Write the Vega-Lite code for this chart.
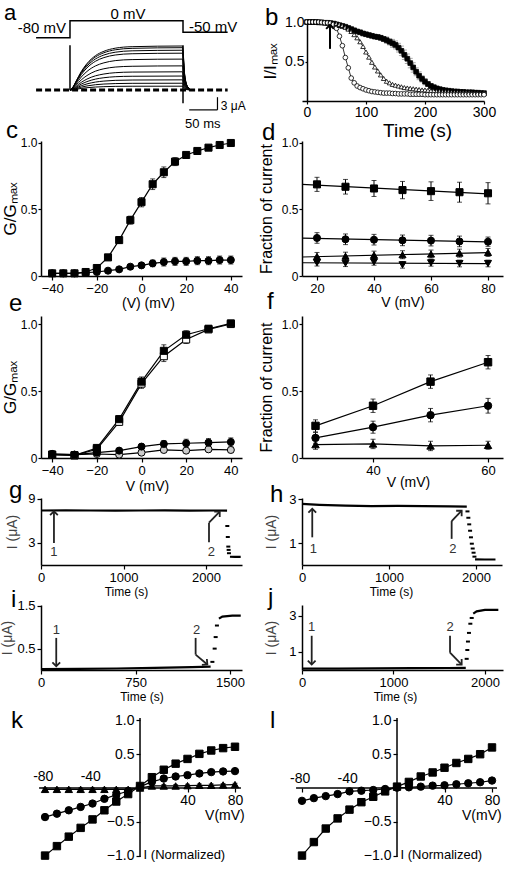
{
"$schema": "https://vega.github.io/schema/vega-lite/v6.json",
"padding": {"left": 0, "top": 0, "right": 4, "bottom": 4},
"columns": 2,
"align": "none",
"bounds": "flush",
"spacing": {"row": 40, "column": 60},
"resolve": {"scale": {"shape": "independent", "fill": "independent"}},
"concat": [
{
 "width": 201, "height": 80,
 "layer": [
  {"data": {"values": [
    {"t":0,"c1":0,"c2":0,"c3":0,"c4":0,"c5":0,"c6":0,"c7":0,"c8":0,"c9":0,"c10":0,"c11":0},
    {"t":5,"c1":0.62,"c2":0.6,"c3":0.56,"c4":0.52,"c5":0.44,"c6":0.34,"c7":0.26,"c8":0.2,"c9":0.14,"c10":0.1,"c11":0.05},
    {"t":10,"c1":1.87,"c2":1.8,"c3":1.69,"c4":1.57,"c5":1.31,"c6":1.03,"c7":0.77,"c8":0.59,"c9":0.43,"c10":0.29,"c11":0.16},
    {"t":20,"c1":4.37,"c2":4.2,"c3":3.95,"c4":3.65,"c5":3.07,"c6":2.39,"c7":1.81,"c8":1.39,"c9":1.01,"c10":0.67,"c11":0.38},
    {"t":30,"c1":6.24,"c2":6.0,"c3":5.64,"c4":5.22,"c5":4.38,"c6":3.42,"c7":2.58,"c8":1.98,"c9":1.44,"c10":0.96,"c11":0.54},
    {"t":45,"c1":8.11,"c2":7.8,"c3":7.33,"c4":6.79,"c5":5.69,"c6":4.45,"c7":3.35,"c8":2.57,"c9":1.87,"c10":1.25,"c11":0.7},
    {"t":60,"c1":9.15,"c2":8.8,"c3":8.27,"c4":7.66,"c5":6.42,"c6":5.02,"c7":3.78,"c8":2.9,"c9":2.11,"c10":1.41,"c11":0.79},
    {"t":80,"c1":9.88,"c2":9.5,"c3":8.93,"c4":8.27,"c5":6.94,"c6":5.42,"c7":4.09,"c8":3.14,"c9":2.28,"c10":1.52,"c11":0.86},
    {"t":110,"c1":10.24,"c2":9.85,"c3":9.26,"c4":8.57,"c5":7.19,"c6":5.61,"c7":4.24,"c8":3.25,"c9":2.36,"c10":1.58,"c11":0.89},
    {"t":199,"c1":10.4,"c2":10.0,"c3":9.4,"c4":8.7,"c5":7.3,"c6":5.7,"c7":4.3,"c8":3.3,"c9":2.4,"c10":1.6,"c11":0.9},
    {"t":203,"c1":3.64,"c2":3.5,"c3":3.29,"c4":3.05,"c5":2.56,"c6":2.0,"c7":1.5,"c8":1.16,"c9":0.84,"c10":0.56,"c11":0.32},
    {"t":208,"c1":0.83,"c2":0.8,"c3":0.75,"c4":0.7,"c5":0.58,"c6":0.46,"c7":0.34,"c8":0.26,"c9":0.19,"c10":0.13,"c11":0.07},
    {"t":215,"c1":0,"c2":0,"c3":0,"c4":0,"c5":0,"c6":0,"c7":0,"c8":0,"c9":0,"c10":0,"c11":0}
   ]},
   "transform": [{"fold": ["c1","c2","c3","c4","c5","c6","c7","c8","c9","c10","c11"], "as": ["k","i"]}],
   "mark": {"type":"line","color":"black","strokeWidth":1,"interpolate":"monotone"},
   "encoding": {
    "x": {"field":"t","type":"quantitative","scale":{"domain":[-51.3,304.4],"nice":false,"zero":false},"axis":null},
    "y": {"field":"i","type":"quantitative","scale":{"domain":[-2.6,16.31],"nice":false,"zero":false},"axis":null},
    "detail": {"field":"k"}
   }
  },
  {"data": {"values": [
    {"o":1,"t":-60,"v":12.36},{"o":2,"t":0,"v":12.36},{"o":3,"t":0,"v":16.38},
    {"o":4,"t":200,"v":16.38},{"o":5,"t":200,"v":13.64},{"o":6,"t":279,"v":13.64}
   ]},
   "mark": {"type":"line","color":"black","strokeWidth":1.5},
   "encoding": {
    "x": {"field":"t","type":"quantitative","scale":{"domain":[-51.3,304.4],"nice":false,"zero":false},"axis":null},
    "y": {"field":"v","type":"quantitative","scale":{"domain":[-2.6,16.31],"nice":false,"zero":false},"axis":null},
    "order": {"field":"o"}
   }
  },
  {"data":{"values":[{}]},"mark":{"type":"rule","color":"white","strokeWidth":1,"strokeOpacity":0},"encoding":{"x":{"datum":-123.8},"x2":{"datum":-122},"y":{"datum":21.16}}},
  {"data":{"values":[{}]},"mark":{"type":"rule","color":"black","strokeWidth":3,"strokeDash":[6,3]},"encoding":{"x":{"datum":-60},"x2":{"datum":279},"y":{"datum":0}}},
  {"data":{"values":[{}]},"mark":{"type":"rule","color":"black","strokeWidth":1.5},"encoding":{"x":{"datum":0},"y":{"datum":0},"y2":{"datum":10.6}}},
  {"data":{"values":[{}]},"mark":{"type":"rule","color":"black","strokeWidth":1.5},"encoding":{"x":{"datum":200},"y":{"datum":10.6},"y2":{"datum":-3.15}}},
  {"data":{"values":[{}]},"mark":{"type":"rule","color":"black","strokeWidth":1.2},"encoding":{"x":{"datum":211},"x2":{"datum":261},"y":{"datum":-4.7}}},
  {"data":{"values":[{}]},"mark":{"type":"rule","color":"black","strokeWidth":1.2},"encoding":{"x":{"datum":261},"y":{"datum":-4.7},"y2":{"datum":-1.7}}},
  {"data":{"values":[{}]},"mark":{"type":"text","text":"-80 mV","fontSize":15,"align":"right","baseline":"middle"},"encoding":{"x":{"datum":-7},"y":{"datum":14.54}}},
  {"data":{"values":[{}]},"mark":{"type":"text","text":"0 mV","fontSize":15,"align":"center","baseline":"middle"},"encoding":{"x":{"datum":102.7},"y":{"datum":17.85}}},
  {"data":{"values":[{}]},"mark":{"type":"text","text":"-50 mV","fontSize":15,"align":"left","baseline":"middle"},"encoding":{"x":{"datum":210.6},"y":{"datum":14.78}}},
  {"data":{"values":[{}]},"mark":{"type":"text","text":"3 μA","fontSize":12,"align":"left","baseline":"middle"},"encoding":{"x":{"datum":267},"y":{"datum":-3.8}}},
  {"data":{"values":[{}]},"mark":{"type":"text","text":"50 ms","fontSize":13,"align":"center","baseline":"middle"},"encoding":{"x":{"datum":235},"y":{"datum":-8.0}}},
  {"data":{"values":[{}]},"mark":{"type":"text","text":"a","fontSize":22,"align":"left","baseline":"alphabetic"},"encoding":{"x":{"datum":-116.8},"y":{"datum":16.55}}}
 ]
},
{
 "width": 182, "height": 80,
 "layer": [
  {
   "data": {"values": [
    {"t":0,"sq":1.0,"tr":1.0,"ci":1.0,"e":0.01},{"t":5,"sq":1.0,"tr":1.0,"ci":1.0,"e":0.01},{"t":10,"sq":1.0,"tr":1.0,"ci":1.0,"e":0.01},
    {"t":15,"sq":1.0,"tr":1.0,"ci":1.0,"e":0.01},{"t":20,"sq":0.995,"tr":1.0,"ci":1.0,"e":0.01},{"t":25,"sq":0.995,"tr":0.995,"ci":0.995,"e":0.01},
    {"t":30,"sq":0.99,"tr":0.995,"ci":0.99,"e":0.01},{"t":35,"sq":0.99,"tr":0.99,"ci":0.99,"e":0.01},{"t":40,"sq":0.985,"tr":0.99,"ci":0.985,"e":0.01},
    {"t":45,"sq":0.98,"tr":0.985,"ci":0.97,"e":0.01},{"t":50,"sq":0.97,"tr":0.98,"ci":0.92,"e":0.01},{"t":55,"sq":0.96,"tr":0.97,"ci":0.82,"e":0.01},
    {"t":60,"sq":0.95,"tr":0.955,"ci":0.70,"e":0.015},{"t":65,"sq":0.94,"tr":0.935,"ci":0.55,"e":0.015},{"t":70,"sq":0.925,"tr":0.91,"ci":0.42,"e":0.015},
    {"t":75,"sq":0.91,"tr":0.88,"ci":0.29,"e":0.015},{"t":80,"sq":0.895,"tr":0.84,"ci":0.23,"e":0.015},{"t":85,"sq":0.88,"tr":0.80,"ci":0.19,"e":0.015},
    {"t":90,"sq":0.87,"tr":0.75,"ci":0.17,"e":0.02},{"t":95,"sq":0.855,"tr":0.69,"ci":0.155,"e":0.02},{"t":100,"sq":0.845,"tr":0.62,"ci":0.14,"e":0.02},
    {"t":105,"sq":0.835,"tr":0.555,"ci":0.13,"e":0.02},{"t":110,"sq":0.825,"tr":0.49,"ci":0.12,"e":0.02},{"t":115,"sq":0.815,"tr":0.43,"ci":0.115,"e":0.025},
    {"t":120,"sq":0.81,"tr":0.38,"ci":0.11,"e":0.025},{"t":125,"sq":0.80,"tr":0.33,"ci":0.105,"e":0.03},{"t":130,"sq":0.785,"tr":0.285,"ci":0.10,"e":0.03},
    {"t":135,"sq":0.77,"tr":0.25,"ci":0.10,"e":0.04},{"t":140,"sq":0.75,"tr":0.23,"ci":0.10,"e":0.04},{"t":145,"sq":0.73,"tr":0.21,"ci":0.095,"e":0.05},
    {"t":150,"sq":0.71,"tr":0.20,"ci":0.095,"e":0.05},{"t":155,"sq":0.675,"tr":0.19,"ci":0.09,"e":0.055},{"t":160,"sq":0.635,"tr":0.18,"ci":0.09,"e":0.06},
    {"t":165,"sq":0.585,"tr":0.17,"ci":0.09,"e":0.06},{"t":170,"sq":0.535,"tr":0.165,"ci":0.09,"e":0.06},{"t":175,"sq":0.48,"tr":0.16,"ci":0.085,"e":0.06},
    {"t":180,"sq":0.425,"tr":0.155,"ci":0.085,"e":0.06},{"t":185,"sq":0.37,"tr":0.15,"ci":0.085,"e":0.05},{"t":190,"sq":0.32,"tr":0.145,"ci":0.085,"e":0.05},
    {"t":195,"sq":0.28,"tr":0.14,"ci":0.085,"e":0.04},{"t":200,"sq":0.245,"tr":0.14,"ci":0.08,"e":0.04},{"t":205,"sq":0.215,"tr":0.135,"ci":0.08,"e":0.03},
    {"t":210,"sq":0.19,"tr":0.13,"ci":0.08,"e":0.03},{"t":215,"sq":0.175,"tr":0.13,"ci":0.08,"e":0.02},{"t":220,"sq":0.16,"tr":0.125,"ci":0.08,"e":0.02},
    {"t":225,"sq":0.15,"tr":0.125,"ci":0.08,"e":0.015},{"t":230,"sq":0.14,"tr":0.12,"ci":0.08,"e":0.015},{"t":235,"sq":0.135,"tr":0.12,"ci":0.08,"e":0.01},
    {"t":240,"sq":0.13,"tr":0.12,"ci":0.08,"e":0.01},{"t":245,"sq":0.125,"tr":0.115,"ci":0.08,"e":0.01},{"t":250,"sq":0.12,"tr":0.115,"ci":0.08,"e":0.01},
    {"t":255,"sq":0.12,"tr":0.115,"ci":0.08,"e":0.01},{"t":260,"sq":0.115,"tr":0.11,"ci":0.08,"e":0.01},{"t":265,"sq":0.115,"tr":0.11,"ci":0.08,"e":0.01},
    {"t":270,"sq":0.11,"tr":0.11,"ci":0.08,"e":0.01},{"t":275,"sq":0.11,"tr":0.11,"ci":0.08,"e":0.01},{"t":280,"sq":0.11,"tr":0.105,"ci":0.08,"e":0.01},
    {"t":285,"sq":0.105,"tr":0.105,"ci":0.08,"e":0.01},{"t":290,"sq":0.105,"tr":0.105,"ci":0.08,"e":0.01},{"t":295,"sq":0.10,"tr":0.10,"ci":0.08,"e":0.01},
    {"t":300,"sq":0.10,"tr":0.10,"ci":0.08,"e":0.01}
   ]},
   "transform": [{"fold": ["sq","tr","ci"], "as": ["s","y"]}],
   "encoding": {
    "x": {"field":"t","type":"quantitative","scale":{"domain":[-8.47,300],"nice":false,"zero":false},"axis":{"values":[0,100,200,300],"title":"Time (s)","titleFontSize":19,"labelFontSize":14,"tickSize":3,"labelPadding":1,"titlePadding":2,"titleX":115}},
    "y": {"field":"y","type":"quantitative","scale":{"domain":[0,1.0127],"nice":false,"zero":false},"axis":{"values":[0.5,1],"format":".1f","offset":-5,"title":"I/Iₘₐₓ","titleFontSize":17,"labelFontSize":14,"tickSize":2,"labelPadding":1,"titlePadding":5}}
   },
   "layer": [
    {"mark": {"type":"line","color":"black","strokeWidth":0.8},"encoding":{"detail":{"field":"s"}}},
    {"transform":[{"filter":"datum.s == 'sq'"}],"mark":{"type":"errorbar","color":"#888","ticks":true},"encoding":{"yError":{"field":"e"}}},
    {"mark": {"type":"point","filled":true,"stroke":"black","strokeWidth":0.8,"size":22,"opacity":1},
     "encoding":{"shape":{"field":"s","scale":{"domain":["sq","tr","ci"],"range":["square","triangle-up","circle"]},"legend":null},
                 "fill":{"field":"s","scale":{"domain":["sq","tr","ci"],"range":["black","white","white"]},"legend":null}}}
   ]
  },
  {"data":{"values":[{}]},"mark":{"type":"rule","color":"black","strokeWidth":2},"encoding":{"x":{"datum":39},"y":{"datum":0.66},"y2":{"datum":0.955}}},
  {"data":{"values":[{}]},"mark":{"type":"point","shape":"M-1,1L0,0L1,1","filled":false,"color":"black","strokeWidth":2,"size":60,"opacity":1},"encoding":{"x":{"datum":39},"y":{"datum":0.962}}},
  {"data":{"values":[{}]},"mark":{"type":"text","text":"b","fontSize":24,"align":"left","baseline":"alphabetic"},"encoding":{"x":{"datum":-71.2},"y":{"datum":0.962}}}
 ]
},
{
 "width": 201, "height": 135,
 "layer": [
  {
   "data": {"values": [
    {"V":-40,"s":"sq","y":0.02,"e":0.01},{"V":-35,"s":"sq","y":0.02,"e":0.01},{"V":-30,"s":"sq","y":0.02,"e":0.01},{"V":-25,"s":"sq","y":0.03,"e":0.01},
    {"V":-20,"s":"sq","y":0.06,"e":0.01},{"V":-15,"s":"sq","y":0.14,"e":0.015},{"V":-10,"s":"sq","y":0.27,"e":0.025},{"V":-5,"s":"sq","y":0.42,"e":0.03},
    {"V":0,"s":"sq","y":0.555,"e":0.035},{"V":5,"s":"sq","y":0.69,"e":0.04},{"V":10,"s":"sq","y":0.78,"e":0.04},{"V":15,"s":"sq","y":0.86,"e":0.03},
    {"V":20,"s":"sq","y":0.91,"e":0.02},{"V":25,"s":"sq","y":0.94,"e":0.015},{"V":30,"s":"sq","y":0.965,"e":0.01},{"V":35,"s":"sq","y":0.985,"e":0.01},
    {"V":40,"s":"sq","y":1.0,"e":0.01},
    {"V":-40,"s":"ci","y":0.02,"e":0.01},{"V":-35,"s":"ci","y":0.02,"e":0.01},{"V":-30,"s":"ci","y":0.02,"e":0.01},{"V":-25,"s":"ci","y":0.025,"e":0.01},
    {"V":-20,"s":"ci","y":0.03,"e":0.01},{"V":-15,"s":"ci","y":0.04,"e":0.01},{"V":-10,"s":"ci","y":0.05,"e":0.01},{"V":-5,"s":"ci","y":0.07,"e":0.015},
    {"V":0,"s":"ci","y":0.08,"e":0.02},{"V":5,"s":"ci","y":0.095,"e":0.025},{"V":10,"s":"ci","y":0.105,"e":0.03},{"V":15,"s":"ci","y":0.11,"e":0.03},
    {"V":20,"s":"ci","y":0.11,"e":0.03},{"V":25,"s":"ci","y":0.115,"e":0.03},{"V":30,"s":"ci","y":0.115,"e":0.03},{"V":35,"s":"ci","y":0.12,"e":0.03},
    {"V":40,"s":"ci","y":0.12,"e":0.03}
   ]},
   "encoding": {
    "x": {"field":"V","type":"quantitative","scale":{"domain":[-45,45],"nice":false,"zero":false},"axis":{"values":[-40,-20,0,20,40],"title":"(V) (mV)","titlePadding":1,"titleX":107}},
    "y": {"field":"y","type":"quantitative","scale":{"domain":[0,1.015],"nice":false,"zero":false},"axis":{"values":[0,0.5,1],"labelExpr":"datum.value == 0 ? '0' : format(datum.value, '.1f')","title":"G/Gₘₐₓ","titleFontSize":17,"labelFontSize":12,"tickSize":3,"labelPadding":1,"titlePadding":1}}
   },
   "layer": [
    {"mark": {"type":"line","color":"black","strokeWidth":1.2},"encoding":{"detail":{"field":"s"}}},
    {"mark": {"type":"errorbar","color":"black","ticks":true},"encoding":{"yError":{"field":"e"},"detail":{"field":"s"}}},
    {"mark": {"type":"point","filled":true,"stroke":"black","strokeWidth":1,"size":50,"opacity":1},
     "encoding":{"shape":{"field":"s","scale":{"domain":["sq","ci"],"range":["square","circle"]},"legend":null},
                 "fill":{"field":"s","scale":{"domain":["sq","ci"],"range":["black","black"]},"legend":null}}}
   ]
  },
  {"data":{"values":[{}]},"mark":{"type":"text","text":"c","fontSize":24,"align":"left","baseline":"alphabetic"},"encoding":{"x":{"datum":-60.7},"y":{"datum":1.038}}}
 ]
},
{
 "width": 201, "height": 135,
 "layer": [
  {
   "data": {"values": [
    {"V":20,"s":"sq","y":0.689,"e":0.053},{"V":30,"s":"sq","y":0.671,"e":0.055},{"V":40,"s":"sq","y":0.658,"e":0.06},{"V":50,"s":"sq","y":0.646,"e":0.065},
    {"V":60,"s":"sq","y":0.638,"e":0.07},{"V":70,"s":"sq","y":0.63,"e":0.075},{"V":80,"s":"sq","y":0.622,"e":0.08},
    {"V":20,"s":"ci","y":0.286,"e":0.04},{"V":30,"s":"ci","y":0.276,"e":0.04},{"V":40,"s":"ci","y":0.273,"e":0.04},{"V":50,"s":"ci","y":0.268,"e":0.04},
    {"V":60,"s":"ci","y":0.266,"e":0.04},{"V":70,"s":"ci","y":0.26,"e":0.04},{"V":80,"s":"ci","y":0.258,"e":0.035},
    {"V":20,"s":"tu","y":0.147,"e":0.03},{"V":30,"s":"tu","y":0.149,"e":0.03},{"V":40,"s":"tu","y":0.157,"e":0.03},{"V":50,"s":"tu","y":0.16,"e":0.03},
    {"V":60,"s":"tu","y":0.165,"e":0.03},{"V":70,"s":"tu","y":0.172,"e":0.03},{"V":80,"s":"tu","y":0.177,"e":0.03},
    {"V":20,"s":"td","y":0.10,"e":0.025},{"V":30,"s":"td","y":0.096,"e":0.025},{"V":40,"s":"td","y":0.106,"e":0.025},{"V":50,"s":"td","y":0.084,"e":0.025},
    {"V":60,"s":"td","y":0.099,"e":0.025},{"V":70,"s":"td","y":0.094,"e":0.025},{"V":80,"s":"td","y":0.094,"e":0.025}
   ]},
   "encoding": {
    "x": {"field":"V","type":"quantitative","scale":{"domain":[14.74,85.26],"nice":false,"zero":false},"axis":{"values":[20,40,60,80],"title":"V (mV)","titlePadding":0}},
    "y": {"field":"y","type":"quantitative","scale":{"domain":[0,1.015],"nice":false,"zero":false},"axis":{"values":[0,0.5,1],"labelExpr":"datum.value == 0 ? '0' : format(datum.value, '.1f')","title":"Fraction of current","titleFontSize":16,"labelFontSize":12,"tickSize":3,"labelPadding":1,"titlePadding":7}}
   },
   "layer": [
    {"transform":[{"regression":"y","on":"V","groupby":["s"],"extent":[14.74,80]}],"mark": {"type":"line","color":"black","strokeWidth":1.2},"encoding":{"detail":{"field":"s"}}},
    {"mark": {"type":"errorbar","color":"black","ticks":true},"encoding":{"yError":{"field":"e"},"detail":{"field":"s"}}},
    {"mark": {"type":"point","filled":true,"stroke":"black","strokeWidth":1,"size":50,"opacity":1},
     "encoding":{"shape":{"field":"s","scale":{"domain":["sq","ci","tu","td"],"range":["square","circle","triangle-up","triangle-down"]},"legend":null},
                 "fill":{"field":"s","scale":{"domain":["sq","ci","tu","td"],"range":["black","black","black","black"]},"legend":null}}}
   ]
  },
  {"data":{"values":[{}]},"mark":{"type":"text","text":"d","fontSize":24,"align":"left","baseline":"alphabetic"},"encoding":{"x":{"datum":0.7},"y":{"datum":1.023}}}
 ]
},
{
 "width": 201, "height": 142,
 "layer": [
  {
   "data": {"values": [
    {"V":-40,"s":"sqo","y":0.025,"e":0.01},{"V":-30,"s":"sqo","y":0.02,"e":0.01},{"V":-20,"s":"sqo","y":0.065,"e":0.02},{"V":-10,"s":"sqo","y":0.27,"e":0.025},
    {"V":0,"s":"sqo","y":0.555,"e":0.035},{"V":10,"s":"sqo","y":0.76,"e":0.04},{"V":20,"s":"sqo","y":0.885,"e":0.03},{"V":30,"s":"sqo","y":0.96,"e":0.02},{"V":40,"s":"sqo","y":1.0,"e":0.01},
    {"V":-40,"s":"sqf","y":0.025,"e":0.01},{"V":-30,"s":"sqf","y":0.02,"e":0.01},{"V":-20,"s":"sqf","y":0.075,"e":0.02},{"V":-10,"s":"sqf","y":0.29,"e":0.025},
    {"V":0,"s":"sqf","y":0.57,"e":0.035},{"V":10,"s":"sqf","y":0.80,"e":0.045},{"V":20,"s":"sqf","y":0.92,"e":0.03},{"V":30,"s":"sqf","y":0.965,"e":0.02},{"V":40,"s":"sqf","y":1.005,"e":0.01},
    {"V":-40,"s":"cio","y":0.03,"e":0.01},{"V":-30,"s":"cio","y":0.025,"e":0.01},{"V":-20,"s":"cio","y":0.03,"e":0.01},{"V":-10,"s":"cio","y":0.025,"e":0.01},
    {"V":0,"s":"cio","y":0.04,"e":0.01},{"V":10,"s":"cio","y":0.06,"e":0.015},{"V":20,"s":"cio","y":0.055,"e":0.015},{"V":30,"s":"cio","y":0.065,"e":0.02},{"V":40,"s":"cio","y":0.06,"e":0.02},
    {"V":-40,"s":"cif","y":0.03,"e":0.01},{"V":-30,"s":"cif","y":0.025,"e":0.01},{"V":-20,"s":"cif","y":0.04,"e":0.01},{"V":-10,"s":"cif","y":0.055,"e":0.015},
    {"V":0,"s":"cif","y":0.085,"e":0.02},{"V":10,"s":"cif","y":0.105,"e":0.025},{"V":20,"s":"cif","y":0.11,"e":0.03},{"V":30,"s":"cif","y":0.115,"e":0.03},{"V":40,"s":"cif","y":0.12,"e":0.03}
   ]},
   "encoding": {
    "x": {"field":"V","type":"quantitative","scale":{"domain":[-45,45],"nice":false,"zero":false},"axis":{"values":[-40,-20,0,20,40],"title":"V (mV)","titlePadding":2,"titleX":106}},
    "y": {"field":"y","type":"quantitative","scale":{"domain":[0,1.06],"nice":false,"zero":false},"axis":{"values":[0,0.5,1],"labelExpr":"datum.value == 0 ? '0' : format(datum.value, '.1f')","title":"G/Gₘₐₓ","titleFontSize":17,"labelFontSize":12,"tickSize":3,"labelPadding":1,"titlePadding":1}}
   },
   "layer": [
    {"mark": {"type":"line","color":"black","strokeWidth":1.2},"encoding":{"detail":{"field":"s"}}},
    {"mark": {"type":"errorbar","color":"black","ticks":true},"encoding":{"yError":{"field":"e"},"detail":{"field":"s"}}},
    {"mark": {"type":"point","filled":true,"stroke":"black","strokeWidth":1,"size":50,"opacity":1},
     "encoding":{"shape":{"field":"s","scale":{"domain":["sqf","sqo","cif","cio"],"range":["square","square","circle","circle"]},"legend":null},
                 "fill":{"field":"s","scale":{"domain":["sqf","sqo","cif","cio"],"range":["black","white","black","#cccccc"]},"legend":null}}}
   ]
  },
  {"data":{"values":[{}]},"mark":{"type":"text","text":"e","fontSize":24,"align":"left","baseline":"alphabetic"},"encoding":{"x":{"datum":-59.3},"y":{"datum":1.097}}}
 ]
},
{
 "width": 201, "height": 142,
 "layer": [
  {
   "data": {"values": [
    {"V":30,"s":"sq","y":0.24,"e":0.045},{"V":40,"s":"sq","y":0.39,"e":0.05},{"V":50,"s":"sq","y":0.57,"e":0.05},{"V":60,"s":"sq","y":0.715,"e":0.05},
    {"V":30,"s":"ci","y":0.15,"e":0.04},{"V":40,"s":"ci","y":0.23,"e":0.045},{"V":50,"s":"ci","y":0.32,"e":0.05},{"V":60,"s":"ci","y":0.39,"e":0.055},
    {"V":30,"s":"tu","y":0.10,"e":0.035},{"V":40,"s":"tu","y":0.105,"e":0.035},{"V":50,"s":"tu","y":0.09,"e":0.035},{"V":60,"s":"tu","y":0.095,"e":0.03}
   ]},
   "encoding": {
    "x": {"field":"V","type":"quantitative","scale":{"domain":[27.65,62.6],"nice":false,"zero":false},"axis":{"values":[40,60],"title":"V (mV)","titlePadding":-2,"titleX":106}},
    "y": {"field":"y","type":"quantitative","scale":{"domain":[0,1.06],"nice":false,"zero":false},"axis":{"values":[0,0.5,1],"labelExpr":"datum.value == 0 ? '0' : format(datum.value, '.1f')","title":"Fraction of current","titleFontSize":16,"labelFontSize":12,"tickSize":3,"labelPadding":1,"titlePadding":7}}
   },
   "layer": [
    {"mark": {"type":"line","color":"black","strokeWidth":1.2},"encoding":{"detail":{"field":"s"}}},
    {"mark": {"type":"errorbar","color":"black","ticks":true},"encoding":{"yError":{"field":"e"},"detail":{"field":"s"}}},
    {"mark": {"type":"point","filled":true,"stroke":"black","strokeWidth":1,"size":55,"opacity":1},
     "encoding":{"shape":{"field":"s","scale":{"domain":["sq","ci","tu"],"range":["square","circle","triangle-up"]},"legend":null},
                 "fill":{"field":"s","scale":{"domain":["sq","ci","tu"],"range":["black","black","black"]},"legend":null}}}
   ]
  },
  {"data":{"values":[{}]},"mark":{"type":"text","text":"f","fontSize":24,"align":"left","baseline":"alphabetic"},"encoding":{"x":{"datum":21.56},"y":{"datum":1.112}}}
 ]
},
{
 "width": 201, "height": 67,
 "layer": [
  {
   "data": {"values": [
    {"t":0,"I":7.4,"s":1},{"t":300,"I":7.42,"s":1},{"t":600,"I":7.4,"s":1},{"t":900,"I":7.38,"s":1},{"t":1200,"I":7.4,"s":1},
    {"t":1500,"I":7.41,"s":1},{"t":1800,"I":7.38,"s":1},{"t":2100,"I":7.4,"s":1},{"t":2255,"I":7.38,"s":1},
    {"t":2258,"I":5.3,"s":2},{"t":2264,"I":3.8,"s":2},{"t":2270,"I":2.5,"s":2},{"t":2274,"I":2.05,"s":2},{"t":2278,"I":1.6,"s":2},
    {"t":2290,"I":1.12,"s":3},{"t":2350,"I":1.1,"s":3},{"t":2420,"I":1.1,"s":3}
   ]},
   "encoding": {
    "x": {"field":"t","type":"quantitative","scale":{"domain":[0,2436],"nice":false,"zero":false},"axis":{"values":[0,1000,2000],"format":"d","title":"Time (s)","titleFontSize":12,"labelFontSize":13,"titlePadding":2,"titleX":85}},
    "y": {"field":"I","type":"quantitative","scale":{"domain":[0,9.1],"nice":false,"zero":false},"axis":{"values":[3,6,9],"title":"I (μA)","titleFontSize":14,"titleColor":"#444","titlePadding":8}}
   },
   "layer": [
    {"transform":[{"filter":"datum.s != 2"}],"mark":{"type":"line","color":"black","strokeWidth":2.2},"encoding":{"detail":{"field":"s"}}},
    {"transform":[{"filter":"datum.s == 2"}],"mark":{"type":"point","shape":"M-1,-0.5L1,-0.5L1,0.5L-1,0.5Z","filled":true,"color":"black","size":16,"opacity":1}}
   ]
  },
  {"data":{"values":[{}]},"mark":{"type":"rule","color":"#222","strokeWidth":1.8},"encoding":{"x":{"datum":157},"y":{"datum":3.0},"y2":{"datum":7.25}}},
  {"data":{"values":[{}]},"mark":{"type":"point","shape":"M-1,1L0,0L1,1","filled":false,"color":"#222","strokeWidth":1.8,"size":60,"opacity":1},"encoding":{"x":{"datum":157},"y":{"datum":7.3}}},
  {"data":{"values":[{}]},"mark":{"type":"rule","color":"#222","strokeWidth":1.8},"encoding":{"x":{"datum":2036},"y":{"datum":3.1},"y2":{"datum":5.74}}},
  {"data":{"values":[{}]},"mark":{"type":"rule","color":"#222","strokeWidth":1.8},"encoding":{"x":{"datum":2036},"y":{"datum":5.74},"x2":{"datum":2166},"y2":{"datum":7.26}}},
  {"data":{"values":[{}]},"mark":{"type":"point","shape":"M-1,1L0,0L1,1","filled":false,"color":"#222","strokeWidth":1.8,"size":60,"angle":45,"opacity":1},"encoding":{"x":{"datum":2166},"y":{"datum":7.26}}},
  {"data":{"values":[{}]},"mark":{"type":"text","text":"1","fontSize":13,"color":"#333","baseline":"middle"},"encoding":{"x":{"datum":157},"y":{"datum":1.83}}},
  {"data":{"values":[{}]},"mark":{"type":"text","text":"2","fontSize":13,"color":"#333","baseline":"middle"},"encoding":{"x":{"datum":2065},"y":{"datum":1.83}}},
  {"data":{"values":[{}]},"mark":{"type":"text","text":"g","fontSize":24,"align":"left","baseline":"alphabetic"},"encoding":{"x":{"datum":-387.8},"y":{"datum":9.1}}}
 ]
},
{
 "width": 200, "height": 67,
 "layer": [
  {
   "data": {"values": [
    {"t":0,"I":2.78,"s":1},{"t":200,"I":2.74,"s":1},{"t":500,"I":2.7,"s":1},{"t":800,"I":2.68,"s":1},{"t":1100,"I":2.69,"s":1},
    {"t":1400,"I":2.68,"s":1},{"t":1700,"I":2.67,"s":1},{"t":1895,"I":2.66,"s":1},
    {"t":1903,"I":2.44,"s":2},{"t":1913,"I":2.15,"s":2},{"t":1923,"I":1.85,"s":2},{"t":1933,"I":1.56,"s":2},{"t":1943,"I":1.26,"s":2},
    {"t":1953,"I":0.97,"s":2},{"t":1963,"I":0.75,"s":2},{"t":1973,"I":0.56,"s":2},{"t":1983,"I":0.38,"s":2},
    {"t":1990,"I":0.26,"s":3},{"t":2100,"I":0.25,"s":3},{"t":2225,"I":0.25,"s":3}
   ]},
   "encoding": {
    "x": {"field":"t","type":"quantitative","scale":{"domain":[0,2300],"nice":false,"zero":false},"axis":{"values":[0,1000,2000],"format":"d","title":"Time (s)","titleFontSize":12,"labelFontSize":13,"titlePadding":2,"titleX":89}},
    "y": {"field":"I","type":"quantitative","scale":{"domain":[0,3.05],"nice":false,"zero":false},"axis":{"values":[1,2,3],"title":"I (μA)","titleFontSize":14,"titleColor":"#444","titlePadding":10}}
   },
   "layer": [
    {"transform":[{"filter":"datum.s != 2"}],"mark":{"type":"line","color":"black","strokeWidth":2.2},"encoding":{"detail":{"field":"s"}}},
    {"transform":[{"filter":"datum.s == 2"}],"mark":{"type":"point","shape":"M-1,-0.5L1,-0.5L1,0.5L-1,0.5Z","filled":true,"color":"black","size":16,"opacity":1}}
   ]
  },
  {"data":{"values":[{}]},"mark":{"type":"rule","color":"#222","strokeWidth":1.8},"encoding":{"x":{"datum":118},"y":{"datum":1.26},"y2":{"datum":2.53}}},
  {"data":{"values":[{}]},"mark":{"type":"point","shape":"M-1,1L0,0L1,1","filled":false,"color":"#222","strokeWidth":1.8,"size":60,"opacity":1},"encoding":{"x":{"datum":118},"y":{"datum":2.56}}},
  {"data":{"values":[{}]},"mark":{"type":"rule","color":"#222","strokeWidth":1.8},"encoding":{"x":{"datum":1721},"y":{"datum":1.19},"y2":{"datum":2.0}}},
  {"data":{"values":[{}]},"mark":{"type":"rule","color":"#222","strokeWidth":1.8},"encoding":{"x":{"datum":1721},"y":{"datum":2.0},"x2":{"datum":1836},"y2":{"datum":2.47}}},
  {"data":{"values":[{}]},"mark":{"type":"point","shape":"M-1,1L0,0L1,1","filled":false,"color":"#222","strokeWidth":1.8,"size":60,"angle":45,"opacity":1},"encoding":{"x":{"datum":1836},"y":{"datum":2.47}}},
  {"data":{"values":[{}]},"mark":{"type":"text","text":"1","fontSize":13,"color":"#333","baseline":"middle"},"encoding":{"x":{"datum":130},"y":{"datum":0.75}}},
  {"data":{"values":[{}]},"mark":{"type":"text","text":"2","fontSize":13,"color":"#333","baseline":"middle"},"encoding":{"x":{"datum":1735},"y":{"datum":0.75}}},
  {"data":{"values":[{}]},"mark":{"type":"text","text":"h","fontSize":24,"align":"left","baseline":"alphabetic"},"encoding":{"x":{"datum":-368},"y":{"datum":2.868}}}
 ]
},
{
 "width": 201, "height": 65,
 "layer": [
  {
   "data": {"values": [
    {"t":0,"I":0.02,"s":1},{"t":300,"I":0.025,"s":1},{"t":600,"I":0.035,"s":1},{"t":900,"I":0.05,"s":1},{"t":1200,"I":0.065,"s":1},{"t":1346,"I":0.08,"s":1},
    {"t":1360,"I":0.19,"s":2},{"t":1378,"I":0.5,"s":2},{"t":1386,"I":0.77,"s":2},{"t":1396,"I":1.04,"s":2},
    {"t":1412,"I":1.2,"s":3},{"t":1439,"I":1.25,"s":3},{"t":1518,"I":1.27,"s":3},{"t":1585,"I":1.27,"s":3}
   ]},
   "encoding": {
    "x": {"field":"t","type":"quantitative","scale":{"domain":[0,1595],"nice":false,"zero":false},"axis":{"values":[0,750,1500],"format":"d","title":"Time (s)","titleFontSize":12,"labelFontSize":13,"titlePadding":2}},
    "y": {"field":"I","type":"quantitative","scale":{"domain":[0,1.52],"nice":false,"zero":false},"axis":{"values":[0.5,1,1.5],"format":".1f","title":"I (μA)","titleFontSize":14,"titleColor":"#444","titlePadding":2}}
   },
   "layer": [
    {"transform":[{"filter":"datum.s != 2"}],"mark":{"type":"line","color":"black","strokeWidth":2.2},"encoding":{"detail":{"field":"s"}}},
    {"transform":[{"filter":"datum.s == 2"}],"mark":{"type":"point","shape":"M-1,-0.5L1,-0.5L1,0.5L-1,0.5Z","filled":true,"color":"black","size":16,"opacity":1}}
   ]
  },
  {"data":{"values":[{}]},"mark":{"type":"rule","color":"#222","strokeWidth":1.8},"encoding":{"x":{"datum":121},"y":{"datum":0.75},"y2":{"datum":0.1}}},
  {"data":{"values":[{}]},"mark":{"type":"point","shape":"M-1,-1L0,0L1,-1","filled":false,"color":"#222","strokeWidth":1.8,"size":60,"opacity":1},"encoding":{"x":{"datum":121},"y":{"datum":0.09}}},
  {"data":{"values":[{}]},"mark":{"type":"rule","color":"#222","strokeWidth":1.8},"encoding":{"x":{"datum":1227},"y":{"datum":0.75},"y2":{"datum":0.36}}},
  {"data":{"values":[{}]},"mark":{"type":"rule","color":"#222","strokeWidth":1.8},"encoding":{"x":{"datum":1227},"y":{"datum":0.36},"x2":{"datum":1320},"y2":{"datum":0.13}}},
  {"data":{"values":[{}]},"mark":{"type":"point","shape":"M-1,-1L0,0L1,-1","filled":false,"color":"#222","strokeWidth":1.8,"size":60,"angle":-50,"opacity":1},"encoding":{"x":{"datum":1320},"y":{"datum":0.13}}},
  {"data":{"values":[{}]},"mark":{"type":"text","text":"1","fontSize":13,"color":"#333","baseline":"middle"},"encoding":{"x":{"datum":121},"y":{"datum":0.94}}},
  {"data":{"values":[{}]},"mark":{"type":"text","text":"2","fontSize":13,"color":"#333","baseline":"middle"},"encoding":{"x":{"datum":1235},"y":{"datum":0.94}}},
  {"data":{"values":[{}]},"mark":{"type":"text","text":"i","fontSize":24,"align":"left","baseline":"alphabetic"},"encoding":{"x":{"datum":-238},"y":{"datum":1.473}}}
 ]
},
{
 "width": 201, "height": 65,
 "layer": [
  {
   "data": {"values": [
    {"t":0,"I":0.08,"s":1},{"t":400,"I":0.08,"s":1},{"t":800,"I":0.09,"s":1},{"t":1200,"I":0.1,"s":1},{"t":1600,"I":0.11,"s":1},{"t":1790,"I":0.12,"s":1},
    {"t":1800,"I":0.62,"s":2},{"t":1807,"I":1.11,"s":2},{"t":1814,"I":1.58,"s":2},{"t":1825,"I":2.06,"s":2},{"t":1840,"I":2.57,"s":2},{"t":1855,"I":2.89,"s":2},
    {"t":1872,"I":3.13,"s":3},{"t":1909,"I":3.26,"s":3},{"t":2000,"I":3.34,"s":3},{"t":2146,"I":3.34,"s":3}
   ]},
   "encoding": {
    "x": {"field":"t","type":"quantitative","scale":{"domain":[0,2197],"nice":false,"zero":false},"axis":{"values":[0,1000,2000],"format":"d","title":"Time (s)","titleFontSize":12,"labelFontSize":13,"titlePadding":2,"titleX":93}},
    "y": {"field":"I","type":"quantitative","scale":{"domain":[0,3.61],"nice":false,"zero":false},"axis":{"values":[1,2,3],"title":"I (μA)","titleFontSize":14,"titleColor":"#444","titlePadding":10}}
   },
   "layer": [
    {"transform":[{"filter":"datum.s != 2"}],"mark":{"type":"line","color":"black","strokeWidth":2.2},"encoding":{"detail":{"field":"s"}}},
    {"transform":[{"filter":"datum.s == 2"}],"mark":{"type":"point","shape":"M-1,-0.5L1,-0.5L1,0.5L-1,0.5Z","filled":true,"color":"black","size":16,"opacity":1}}
   ]
  },
  {"data":{"values":[{}]},"mark":{"type":"rule","color":"#222","strokeWidth":1.8},"encoding":{"x":{"datum":106},"y":{"datum":1.9},"y2":{"datum":0.32}}},
  {"data":{"values":[{}]},"mark":{"type":"point","shape":"M-1,-1L0,0L1,-1","filled":false,"color":"#222","strokeWidth":1.8,"size":60,"opacity":1},"encoding":{"x":{"datum":106},"y":{"datum":0.3}}},
  {"data":{"values":[{}]},"mark":{"type":"rule","color":"#222","strokeWidth":1.8},"encoding":{"x":{"datum":1618},"y":{"datum":1.9},"y2":{"datum":0.96}}},
  {"data":{"values":[{}]},"mark":{"type":"rule","color":"#222","strokeWidth":1.8},"encoding":{"x":{"datum":1618},"y":{"datum":0.96},"x2":{"datum":1745},"y2":{"datum":0.3}}},
  {"data":{"values":[{}]},"mark":{"type":"point","shape":"M-1,-1L0,0L1,-1","filled":false,"color":"#222","strokeWidth":1.8,"size":60,"angle":-45,"opacity":1},"encoding":{"x":{"datum":1745},"y":{"datum":0.3}}},
  {"data":{"values":[{}]},"mark":{"type":"text","text":"1","fontSize":13,"color":"#333","baseline":"middle"},"encoding":{"x":{"datum":106},"y":{"datum":2.38}}},
  {"data":{"values":[{}]},"mark":{"type":"text","text":"2","fontSize":13,"color":"#333","baseline":"middle"},"encoding":{"x":{"datum":1618},"y":{"datum":2.38}}},
  {"data":{"values":[{}]},"mark":{"type":"text","text":"j","fontSize":24,"align":"left","baseline":"alphabetic"},"encoding":{"x":{"datum":-371.6},"y":{"datum":3.61}}}
 ]
},
{
 "width": 201, "height": 147,
 "layer": [
  {
   "data": {"values": [
    {"V":-80,"sq":-1.0,"ci":-0.43,"tu":-0.02,"e":0.02},{"V":-70,"sq":-0.86,"ci":-0.38,"tu":-0.02,"e":0.02},{"V":-60,"sq":-0.72,"ci":-0.33,"tu":-0.02,"e":0.02},
    {"V":-50,"sq":-0.59,"ci":-0.28,"tu":-0.02,"e":0.02},{"V":-40,"sq":-0.465,"ci":-0.23,"tu":-0.02,"e":0.02},{"V":-30,"sq":-0.33,"ci":-0.16,"tu":-0.02,"e":0.02},
    {"V":-20,"sq":-0.2,"ci":-0.1,"tu":-0.02,"e":0.02},{"V":-10,"sq":-0.09,"ci":-0.045,"tu":-0.02,"e":0.02},{"V":0,"sq":0.03,"ci":0.02,"tu":0.0,"e":0.02},
    {"V":10,"sq":0.16,"ci":0.09,"tu":0.03,"e":0.02},{"V":20,"sq":0.27,"ci":0.14,"tu":0.03,"e":0.02},{"V":30,"sq":0.36,"ci":0.17,"tu":0.03,"e":0.02},
    {"V":40,"sq":0.43,"ci":0.19,"tu":0.035,"e":0.02},{"V":50,"sq":0.505,"ci":0.215,"tu":0.04,"e":0.02},{"V":60,"sq":0.555,"ci":0.235,"tu":0.04,"e":0.02},
    {"V":70,"sq":0.59,"ci":0.245,"tu":0.045,"e":0.02},{"V":80,"sq":0.61,"ci":0.25,"tu":0.05,"e":0.02}
   ]},
   "transform": [{"fold": ["sq","ci","tu"], "as": ["s","y"]}],
   "encoding": {
    "x": {"field":"V","type":"quantitative","scale":{"domain":[-83.4,85.9],"nice":false,"zero":false},"axis":{"values":[-80,-40,40,80],"labelExpr":"datum.value < 0 ? '' : datum.label","offset":-69,"domain":false,"title":null,"labelFontSize":14,"labelPadding":1}},
    "y": {"field":"y","type":"quantitative","scale":{"domain":[-1.021,1.154],"nice":false,"zero":false},"axis":{"values":[-1,-0.5,0.5,1],"format":".1f","offset":-99,"domain":false,"title":null,"labelFontSize":14}}
   },
   "layer": [
    {"mark": {"type":"line","color":"black","strokeWidth":1.2},"encoding":{"detail":{"field":"s"}}},
    {"mark": {"type":"errorbar","color":"black","ticks":true},"encoding":{"yError":{"field":"e"},"detail":{"field":"s"}}},
    {"mark": {"type":"point","filled":true,"stroke":"black","strokeWidth":1,"size":55,"opacity":1},
     "encoding":{"shape":{"field":"s","scale":{"domain":["sq","ci","tu"],"range":["square","circle","triangle-up"]},"legend":null},
                 "fill":{"field":"s","scale":{"domain":["sq","ci","tu"],"range":["black","black","black"]},"legend":null}}}
   ]
  },
  {"data":{"values":[{}]},"mark":{"type":"rule","color":"black","strokeWidth":1.5},"encoding":{"x":{"datum":-85},"x2":{"datum":85},"y":{"datum":0}}},
  {"data":{"values":[{}]},"mark":{"type":"rule","color":"black","strokeWidth":1.5},"encoding":{"x":{"datum":0},"y":{"datum":-1.02},"y2":{"datum":1.035}}},
  {"data":{"values":[{}]},"mark":{"type":"text","text":"-80","fontSize":14,"align":"center","baseline":"middle"},"encoding":{"x":{"datum":-81.5},"y":{"datum":0.16}}},
  {"data":{"values":[{}]},"mark":{"type":"text","text":"-40","fontSize":14,"align":"center","baseline":"middle"},"encoding":{"x":{"datum":-41.5},"y":{"datum":0.16}}},
  {"data":{"values":[{}]},"mark":{"type":"text","text":"V(mV)","fontSize":14,"align":"center","baseline":"middle"},"encoding":{"x":{"datum":71.5},"y":{"datum":-0.42}}},
  {"data":{"values":[{}]},"mark":{"type":"text","text":"I (Normalized)","fontSize":13,"align":"left","baseline":"middle"},"encoding":{"x":{"datum":3},"y":{"datum":-0.99}}},
  {"data":{"values":[{}]},"mark":{"type":"text","text":"k","fontSize":24,"align":"left","baseline":"alphabetic"},"encoding":{"x":{"datum":-108.7},"y":{"datum":0.888}}}
 ]
},
{
 "width": 195, "height": 147,
 "layer": [
  {
   "data": {"values": [
    {"V":-80,"sq":-1.0,"ci":-0.19,"e":0.02},{"V":-70,"sq":-0.8,"ci":-0.15,"e":0.02},{"V":-60,"sq":-0.6,"ci":-0.12,"e":0.02},
    {"V":-50,"sq":-0.45,"ci":-0.09,"e":0.02},{"V":-40,"sq":-0.32,"ci":-0.05,"e":0.02},{"V":-30,"sq":-0.21,"ci":-0.04,"e":0.02},
    {"V":-20,"sq":-0.13,"ci":-0.03,"e":0.02},{"V":-10,"sq":-0.05,"ci":-0.015,"e":0.02},{"V":0,"sq":0.02,"ci":0.005,"e":0.02},
    {"V":10,"sq":0.09,"ci":0.01,"e":0.02},{"V":20,"sq":0.17,"ci":0.02,"e":0.02},{"V":30,"sq":0.23,"ci":0.035,"e":0.02},
    {"V":40,"sq":0.3,"ci":0.04,"e":0.02},{"V":50,"sq":0.37,"ci":0.055,"e":0.02},{"V":60,"sq":0.43,"ci":0.07,"e":0.02},
    {"V":70,"sq":0.5,"ci":0.085,"e":0.02},{"V":80,"sq":0.6,"ci":0.11,"e":0.025}
   ]},
   "transform": [{"fold": ["sq","ci"], "as": ["s","y"]}],
   "encoding": {
    "x": {"field":"V","type":"quantitative","scale":{"domain":[-80,84.2],"nice":false,"zero":false},"axis":{"values":[-80,-40,40,80],"labelExpr":"datum.value < 0 ? '' : datum.label","offset":-69,"domain":false,"title":null,"labelFontSize":14,"labelPadding":1}},
    "y": {"field":"y","type":"quantitative","scale":{"domain":[-1.021,1.154],"nice":false,"zero":false},"axis":{"values":[-1,-0.5,0.5,1],"format":".1f","offset":-95,"domain":false,"title":null,"labelFontSize":14}}
   },
   "layer": [
    {"mark": {"type":"line","color":"black","strokeWidth":1.2},"encoding":{"detail":{"field":"s"}}},
    {"mark": {"type":"errorbar","color":"black","ticks":true},"encoding":{"yError":{"field":"e"},"detail":{"field":"s"}}},
    {"mark": {"type":"point","filled":true,"stroke":"black","strokeWidth":1,"size":55,"opacity":1},
     "encoding":{"shape":{"field":"s","scale":{"domain":["sq","ci"],"range":["square","circle"]},"legend":null},
                 "fill":{"field":"s","scale":{"domain":["sq","ci"],"range":["black","black"]},"legend":null}}}
   ]
  },
  {"data":{"values":[{}]},"mark":{"type":"rule","color":"black","strokeWidth":1.5},"encoding":{"x":{"datum":-85},"x2":{"datum":84.2},"y":{"datum":0}}},
  {"data":{"values":[{}]},"mark":{"type":"rule","color":"black","strokeWidth":1.5},"encoding":{"x":{"datum":0},"y":{"datum":-1.02},"y2":{"datum":1.035}}},
  {"data":{"values":[{}]},"mark":{"type":"text","text":"-80","fontSize":14,"align":"center","baseline":"middle"},"encoding":{"x":{"datum":-81.5},"y":{"datum":0.14}}},
  {"data":{"values":[{}]},"mark":{"type":"text","text":"-40","fontSize":14,"align":"center","baseline":"middle"},"encoding":{"x":{"datum":-41.5},"y":{"datum":0.14}}},
  {"data":{"values":[{}]},"mark":{"type":"text","text":"V(mV)","fontSize":14,"align":"center","baseline":"middle"},"encoding":{"x":{"datum":71.4},"y":{"datum":-0.41}}},
  {"data":{"values":[{}]},"mark":{"type":"text","text":"I (Normalized)","fontSize":13,"align":"left","baseline":"middle"},"encoding":{"x":{"datum":3},"y":{"datum":-0.99}}},
  {"data":{"values":[{}]},"mark":{"type":"text","text":"l","fontSize":24,"align":"left","baseline":"alphabetic"},"encoding":{"x":{"datum":-106.9},"y":{"datum":0.888}}}
 ]
}
],
"config": {
 "view": {"stroke": null},
 "font": "Liberation Sans",
 "axis": {"grid": false, "domainColor": "black", "domainWidth": 1.5, "tickColor": "black", "tickWidth": 1.2, "tickSize": 4,
          "labelColor": "black", "titleColor": "black", "labelFontSize": 13, "titleFontSize": 14, "titleFontWeight": "normal",
          "labelFlush": false, "labelOverlap": false, "labelPadding": 2, "titlePadding": 3, "labelFont": "Liberation Sans", "titleFont": "Liberation Sans"},
 "text": {"color": "black", "font": "Liberation Sans"}
}
}
